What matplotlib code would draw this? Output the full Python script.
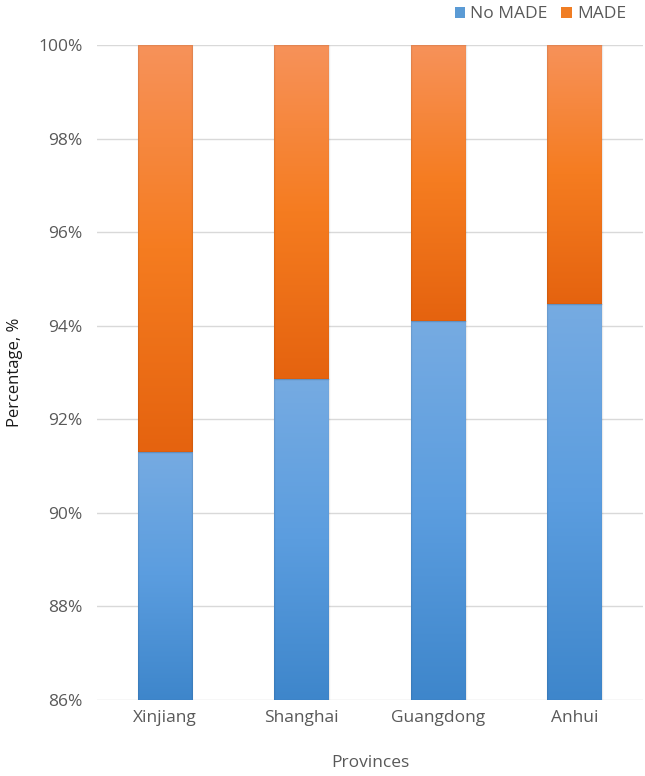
import matplotlib
matplotlib.use("Agg")
import matplotlib.pyplot as plt
import numpy as np
from matplotlib.colors import LinearSegmentedColormap
from matplotlib.patches import Rectangle, Patch

provinces = ["Xinjiang", "Shanghai", "Guangdong", "Anhui"]
no_made = [91.31, 92.86, 94.10, 94.46]
made = [100 - v for v in no_made]
yticks = [86, 88, 90, 92, 94, 96, 98, 100]

plt.rcParams['font.family'] = ['Open Sans', 'DejaVu Sans']
grey = "#595959"
fs = 12.5

fig = plt.figure(figsize=(6.45, 7.76), dpi=100)
ax = fig.add_axes([0.150, 0.098, 0.847, 0.844])

x = np.arange(len(provinces))
width = 0.4
b1 = ax.bar(x, no_made, width, color="#5b9bd5", label="No MADE", zorder=2)
b2 = ax.bar(x, made, width, bottom=no_made, color="#f07d24", label="MADE", zorder=2)

blue_cmap = LinearSegmentedColormap.from_list("b", ["#3e86cb", "#5b9ddf", "#76abe2"])
orange_cmap = LinearSegmentedColormap.from_list("o", ["#e5630f", "#f57c20", "#f7925a"])

ax.set_xlim(-0.5, len(provinces) - 0.5)
ax.set_ylim(86, 100)

for bars, cmap in ((b1, blue_cmap), (b2, orange_cmap)):
    for p in bars:
        x0, y0 = p.get_x(), p.get_y()
        w, h = p.get_width(), p.get_height()
        yb = max(y0, 86)
        grad = np.linspace(0, 1, 256).reshape(-1, 1)
        im = ax.imshow(grad, cmap=cmap, origin="lower", aspect="auto",
                       extent=[x0, x0 + w, yb, y0 + h], zorder=3)
        im.set_clip_path(p)
        p.set_facecolor("none")
        p.set_edgecolor("none")
        ax.add_patch(Rectangle((x0, yb), w, y0 + h - yb, fill=False,
                               edgecolor=(0, 0, 0, 0.08), lw=1.0, zorder=4))

ax.set_xlim(-0.5, len(provinces) - 0.5)
ax.set_ylim(86, 100)
ax.set_yticks(yticks)
ax.set_yticklabels([f"{t}%" for t in yticks], color=grey, fontsize=fs)
ax.set_xticks(x)
ax.set_xticklabels(provinces, color=grey, fontsize=fs)
ax.tick_params(axis="x", length=0, pad=7)
ax.tick_params(axis="y", length=0, pad=10)
ax.grid(axis="y", color="#d9d9d9", lw=1, zorder=0)
for s in ax.spines.values():
    s.set_visible(False)

ax.set_xlabel("Provinces", color=grey, fontsize=fs, labelpad=21)
ax.set_ylabel("Percentage, %", color="#1a1a1a", fontsize=12, labelpad=11)

handles = [Patch(facecolor="#5b9bd5", edgecolor="none", label="No MADE"),
           Patch(facecolor="#f07d24", edgecolor="none", label="MADE")]
fig.legend(handles=handles, loc="upper right", bbox_to_anchor=(0.995, 1.012), ncol=2,
           frameon=False, fontsize=fs, handlelength=0.6, handleheight=0.6,
           handletextpad=0.3, columnspacing=0.8, labelcolor=grey)

fig.savefig("out.png", dpi=100)
